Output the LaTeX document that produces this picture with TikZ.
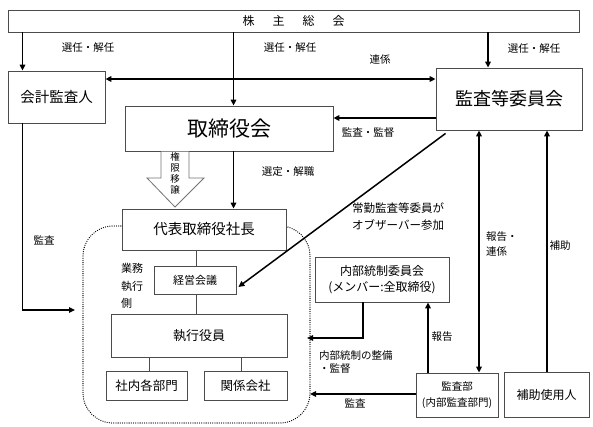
\documentclass[tikz,border=0pt]{standalone}
\usepackage{fontspec}
\setmainfont{Noto Sans CJK JP}
\usetikzlibrary{arrows.meta}
\newcommand{\fsz}[2]{\fontsize{#1}{#2}\selectfont}
\begin{document}
\begin{tikzpicture}[x=1pt,y=-1pt,
  box/.style={draw=black!70, line width=0.8pt, fill=white, inner sep=1pt, align=center},
  conn/.style={line width=1.5pt, -{Triangle[length=6pt,width=5.5pt]}},
  bconn/.style={line width=1.5pt, {Triangle[length=6pt,width=5.5pt]}-{Triangle[length=6pt,width=5.5pt]}},
  link/.style={draw=black!70, line width=0.8pt},
  lbl/.style={inner sep=0pt, font=\fsz{10.5}{14}},
]
\useasboundingbox (0,0) rectangle (593,426);

% dotted execution area
\draw[line width=1.3pt, dash pattern=on 0pt off 2.2pt, line cap=round, rounded corners=30pt] (83,226) rectangle (310,423);

% boxes
\node[box, minimum width=571pt, minimum height=22pt, font=\fsz{12}{14}] (kabu) at (293.5,21) {株\hspace{18pt}主\hspace{18pt}総\hspace{18pt}会};
\node[box, minimum width=97pt, minimum height=52pt, font=\fsz{14.5}{16}] (kaikei) at (56.5,97) {会計監査人};
\node[box, minimum width=208pt, minimum height=45pt, font=\fsz{21}{24}] (tori) at (229,128.5) {取締役会};
\node[box, minimum width=146pt, minimum height=62pt, font=\fsz{18}{20}] (kiin) at (509,99) {監査等委員会};
\node[box, minimum width=164pt, minimum height=41pt, font=\fsz{14.5}{16}] (daihyo) at (204,229.5) {代表取締役社長};
\node[box, minimum width=82pt, minimum height=28pt, font=\fsz{11}{13}] (keiei) at (195,280) {経営会議};
\node[box, minimum width=176pt, minimum height=43pt, font=\fsz{13}{15}] (shikko) at (199,335.5) {執行役員};
\node[box, minimum width=81pt, minimum height=29pt, font=\fsz{12.5}{14}] (shanai) at (146.5,385.5) {社内各部門};
\node[box, minimum width=83pt, minimum height=29pt, font=\fsz{12.5}{14}] (kankei) at (245.5,385.5) {関係会社};
\node[box, minimum width=134pt, minimum height=45pt, font=\fsz{12}{16.5}] (naibu) at (382,279.5) {内部統制委員会\\(メンバー:全取締役)};
\node[box, minimum width=82pt, minimum height=44pt, font=\fsz{10.5}{16}] (kansabu) at (457,395) {監査部\\(内部監査部門)};
\node[box, minimum width=85pt, minimum height=45pt, font=\fsz{12}{14}] (hojo) at (546.5,394.5) {補助使用人};

% helper coordinates
\coordinate (xa) at (22.5,0);
\coordinate (xb) at (233.5,0);
\coordinate (xc) at (488,0);
\coordinate (xd) at (196,0);
\coordinate (xe) at (149,0);
\coordinate (xf) at (241,0);
\coordinate (xn) at (363,0);
\coordinate (xk) at (428,0);
\coordinate (xr1) at (479,0);
\coordinate (xr2) at (547,0);
\coordinate (y79) at (0,79);
\coordinate (y118) at (0,118);
\coordinate (y310) at (0,310);
\coordinate (y338) at (0,338);
\coordinate (y394) at (0,394);
\coordinate (kend) at (75,310);
\coordinate (nend) at (307,338);
\coordinate (bend) at (310,394);

% connectors
\draw[conn] (xa |- kabu.south) -- (xa |- kaikei.north);
\draw[conn] (xb |- kabu.south) -- (xb |- tori.north);
\draw[conn] (xc |- kabu.south) -- (xc |- kiin.north);
\draw[bconn] (kaikei.east |- y79) -- (kiin.west |- y79);
\draw[conn] (kiin.west |- y118) -- (tori.east |- y118);
\draw[conn] (xb |- tori.south) -- (xb |- daihyo.north);
\draw[conn] ([shift={(10,3)}]kiin.south west) -- ([shift={(2,7)}]keiei.east);
\draw[conn] (xa |- kaikei.south) -- (xa |- y310) -- (kend);
\draw[link] (xd |- daihyo.south) -- (xd |- keiei.north);
\draw[link] (xd |- keiei.south) -- (xd |- shikko.north);
\draw[link] (xe |- shikko.south) -- (xe |- shanai.north);
\draw[link] (xf |- shikko.south) -- (xf |- kankei.north);
\draw[conn] (xn |- naibu.south) -- (xn |- y338) -- (nend);
\draw[conn] (xk |- kansabu.north) -- (xk |- naibu.south);
\draw[conn] (kansabu.west |- y394) -- (bend);
\draw[bconn] (xr1 |- kiin.south) -- (xr1 |- kansabu.north);
\draw[conn] (xr2 |- hojo.north) -- (xr2 |- kiin.south);

% hollow arrow (authority delegation)
\draw[draw=black!55, line width=0.8pt, fill=white]
  (161,151.5) -- (161,178) -- (147,178) -- (175,207) -- (204,178) -- (189,178) -- (189,151.5);
\node[inner sep=0pt, align=center, font=\fsz{9.5}{11}] (kengen) at (175,173) {権\\限\\移\\譲};

% labels
\node[lbl] (l1) at (88,48) {選任・解任};
\node[lbl] (l2) at (290,48) {選任・解任};
\node[lbl] (l3) at (534,49) {選任・解任};
\node[lbl] (l4) at (380,60) {連係};
\node[lbl] (l5) at (368,133) {監査・監督};
\node[lbl] (l6) at (288,172) {選定・解職};
\node[inner sep=0pt, anchor=west, align=left, font=\fsz{11.5}{17}] (l7) at (352,216.5) {常勤監査等委員が\\オブザーバー参加};
\node[lbl] (l8) at (44,240) {監査};
\node[inner sep=0pt, anchor=west, align=left, font=\fsz{11}{17.5}] (l9) at (121,286) {業務\\執行\\側};
\node[inner sep=0pt, anchor=west, align=left, font=\fsz{10.5}{15}] (l10) at (486,244.5) {報告・\\連係};
\node[lbl] (l11) at (560,246) {補助};
\node[lbl] (l12) at (442,337) {報告};
\node[inner sep=0pt, anchor=west, align=left, font=\fsz{10.5}{13}] (l13) at (319,362) {内部統制の整備\\・監督};
\node[lbl] (l14) at (355,403) {監査};
\end{tikzpicture}
\end{document}
